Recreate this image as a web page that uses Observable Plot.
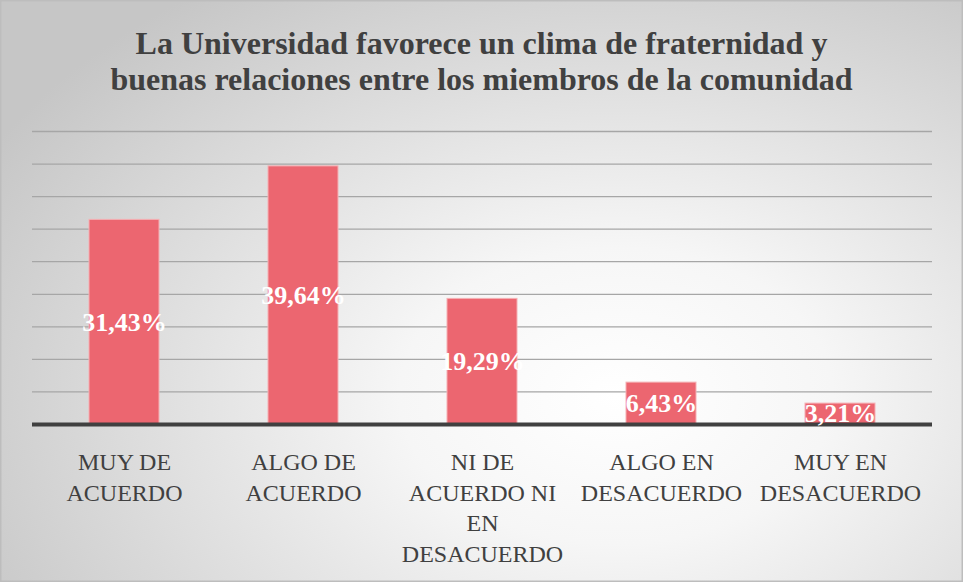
<!DOCTYPE html>
<html>
<head>
<meta charset="utf-8">
<script src="https://cdn.jsdelivr.net/npm/d3@7"></script>
<script src="https://cdn.jsdelivr.net/npm/@observablehq/plot@0.6"></script>
<style>
  html, body { margin: 0; padding: 0; background: #fff; }
  #chart {
    position: relative; width: 963px; height: 582px; overflow: hidden;
    background: radial-gradient(ellipse 75% 85% at 64% 68%, #ffffff 0%, #f6f6f6 30%, #dedede 65%, #c6c6c6 100%);
    box-shadow: inset 0 0 0 1.5px #bdbdbd;
  }
  #title {
    position: absolute; left: 0; top: 25px; width: 963px; text-align: center;
    font-weight: bold; font-size: 32px; line-height: 36px; color: #404040;
  }
  #chart svg { position: absolute; left: 0; top: 0; }
</style>
</head>
<body>
<div id="chart">
  <div id="title">La Universidad favorece un clima de fraternidad y<br>buenas relaciones entre los miembros de la comunidad</div>
</div>
<script>
const categories = ["MUY DE ACUERDO", "ALGO DE ACUERDO", "NI DE ACUERDO NI EN DESACUERDO", "ALGO EN DESACUERDO", "MUY EN DESACUERDO"];
const tickLabels = ["MUY DE\nACUERDO", "ALGO DE\nACUERDO", "NI DE\nACUERDO NI\nEN\nDESACUERDO", "ALGO EN\nDESACUERDO", "MUY EN\nDESACUERDO"];
const values = [31.43, 39.64, 19.29, 6.43, 3.21];
const valueLabels = ["31,43%", "39,64%", "19,29%", "6,43%", "3,21%"];
const gridTicks = [5, 10, 15, 20, 25, 30, 35, 40, 45];

const data = categories.map((c, i) => ({cat: c, value: values[i], label: valueLabels[i]}));
const serif = "Liberation Serif";
document.getElementById("title").style.fontFamily = serif;

const plot = Plot.plot({
  width: 963,
  height: 582,
  marginLeft: 32,
  marginRight: 31,
  marginTop: 131,
  marginBottom: 158,
  style: {background: "transparent", fontFamily: serif},
  x: {domain: categories, paddingInner: 0.611, paddingOuter: 0.3056, axis: null},
  y: {domain: [0, 45], axis: null},
  marks: [
    Plot.ruleY(gridTicks, {stroke: "#a6a6a6", strokeWidth: 1.3}),
    Plot.barY(data, {x: "cat", y: "value", fill: "#ec6670", stroke: "#f5b0b4", strokeWidth: 1}),
    Plot.ruleY([0], {stroke: "#404040", strokeWidth: 4}),
    Plot.text(data, {x: "cat", y: d => d.value / 2, text: "label", fill: "white", fontWeight: "bold", fontSize: 26, fontFamily: serif, lineAnchor: "middle"}),
    Plot.axisX({
      label: null, tickSize: 0, tickPadding: 24, fontSize: 24, lineHeight: 1.27, fill: "#404040",
      fontFamily: serif, tickFormat: c => tickLabels[categories.indexOf(c)]
    })
  ]
});
document.getElementById("chart").appendChild(plot);
</script>
</body>
</html>
